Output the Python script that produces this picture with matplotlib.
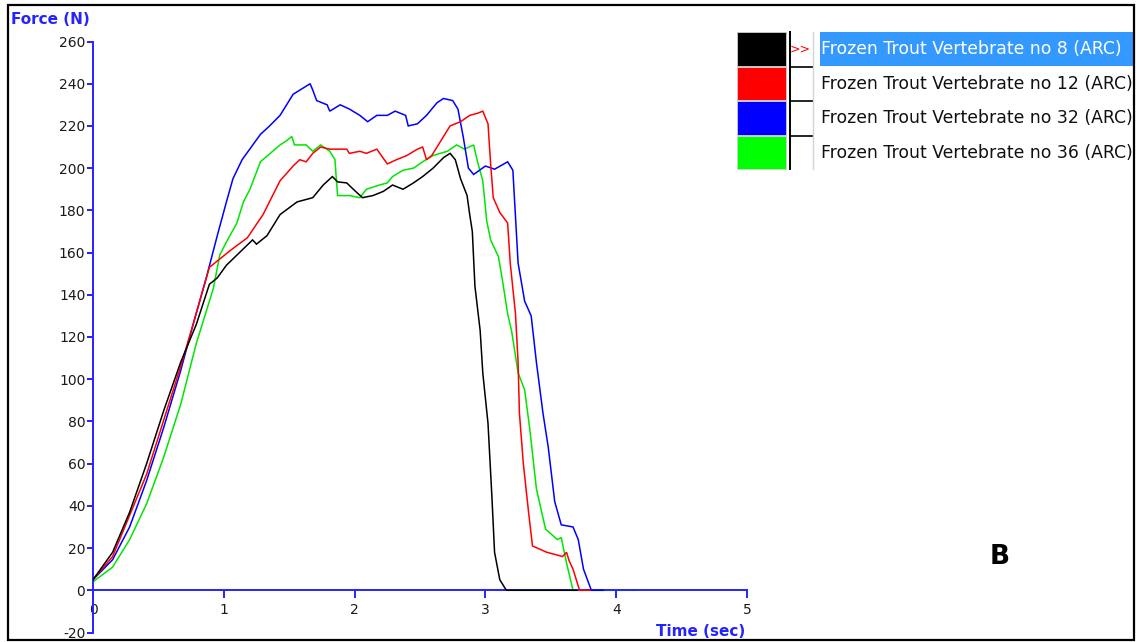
import matplotlib
matplotlib.use("Agg")
import matplotlib.pyplot as plt
from matplotlib.patches import Rectangle

plt.rcParams["axes.unicode_minus"] = False

# --- Curves: time [s], force [N] ---
t_no8 = [0, 0.15, 0.28, 0.41, 0.54, 0.67, 0.79, 0.89, 0.95, 1.02, 1.12, 1.22, 1.25, 1.33,
         1.43, 1.56, 1.68, 1.76, 1.83, 1.87, 1.94, 1.99, 2.06, 2.14, 2.22, 2.29, 2.37, 2.45,
         2.52, 2.60, 2.68, 2.73, 2.77, 2.81, 2.86, 2.88, 2.90, 2.92, 2.96, 2.98, 3.02, 3.05,
         3.07, 3.11, 3.16, 3.70]
f_no8 = [5, 18, 37, 60, 85, 108, 126, 145, 148, 154, 160, 166, 164, 168,
         178, 184, 186, 192, 196, 193.5, 193, 190, 186, 187, 189, 192, 190, 193,
         196, 200, 205, 207, 204, 195, 187, 178, 170, 144, 123, 103, 79, 44,
         18, 5, 0, 0]

t_no12 = [0, 0.15, 0.41, 0.67, 0.77, 0.89, 0.97, 1.05, 1.18, 1.30, 1.43, 1.53, 1.58, 1.63,
          1.68, 1.74, 1.81, 1.94, 1.96, 2.04, 2.09, 2.17, 2.25, 2.32, 2.40, 2.48, 2.52, 2.55,
          2.59, 2.68, 2.73, 2.81, 2.88, 2.94, 2.98, 3.02, 3.04, 3.06, 3.11, 3.17, 3.19, 3.23,
          3.25, 3.26, 3.29, 3.33, 3.36, 3.47, 3.59, 3.62, 3.64, 3.67, 3.72, 3.80]
f_no12 = [5, 16, 55, 106, 127, 153, 157, 161, 167, 178, 194, 201, 204, 203,
          207, 210, 209, 209, 207, 208, 207, 209, 202, 204, 206, 209, 210, 204,
          206, 215, 220, 222, 225, 226, 227, 221, 202, 186, 179, 174, 155, 131,
          108, 84, 60, 37, 21, 18, 16, 18, 14, 10, 0, 0]

t_no32 = [0, 0.15, 0.28, 0.41, 0.54, 0.67, 0.77, 0.87, 0.95, 1.02, 1.07, 1.14, 1.28, 1.35,
          1.43, 1.53, 1.66, 1.68, 1.71, 1.79, 1.81, 1.89, 1.96, 2.04, 2.10, 2.17, 2.25, 2.31,
          2.39, 2.41, 2.48, 2.55, 2.63, 2.68, 2.75, 2.79, 2.83, 2.87, 2.91, 3.00, 3.07, 3.17,
          3.21, 3.25, 3.30, 3.35, 3.39, 3.44, 3.48, 3.53, 3.58, 3.67, 3.71, 3.75, 3.81, 3.90]
f_no32 = [5, 14.5, 30, 52, 77, 104, 127, 149, 168, 184, 195, 204, 216, 220,
          225, 235, 240, 237, 232, 230, 227, 230, 228, 225, 222, 225, 225, 227,
          225, 220, 221, 225, 231, 233, 232, 228, 215, 200, 197, 201, 199.5, 203,
          199, 155, 137, 130, 108, 84, 68, 42, 31, 30, 24, 10, 0, 0]

t_no36 = [0, 0.15, 0.28, 0.41, 0.54, 0.67, 0.79, 0.92, 0.97, 1.02, 1.10, 1.15, 1.20, 1.28,
          1.43, 1.48, 1.52, 1.54, 1.63, 1.68, 1.74, 1.81, 1.85, 1.86, 1.87, 1.96, 2.04, 2.09,
          2.19, 2.25, 2.29, 2.37, 2.45, 2.52, 2.60, 2.71, 2.78, 2.84, 2.91, 2.94, 2.98, 3.01,
          3.04, 3.10, 3.13, 3.17, 3.20, 3.25, 3.30, 3.34, 3.39, 3.46, 3.55, 3.58, 3.62, 3.67,
          4.16]
f_no36 = [4, 11, 24, 41, 63, 88, 117, 143, 159, 165, 174, 184, 190, 203,
          211, 213, 215, 211, 211, 208, 211, 208, 204, 195, 187, 187, 186, 190,
          192, 193, 196, 199, 200, 203, 206, 208, 211, 209, 211, 203, 194, 175,
          166, 158, 147, 131, 123, 103, 95, 76, 48, 29, 24, 25, 13, 0,
          0]

labels = ["Frozen Trout Vertebrate no 8 (ARC)", "Frozen Trout Vertebrate no 12 (ARC)",
          "Frozen Trout Vertebrate no 32 (ARC)", "Frozen Trout Vertebrate no 36 (ARC)"]
colors = ["#000000", "#ff0000", "#0000ff", "#00e600"]
x_ticks = [0, 1, 2, 3, 4, 5]
y_ticks = list(range(-20, 261, 20))

AXIS_BLUE = "#2424ff"

fig = plt.figure(figsize=(11.37, 6.42), dpi=100)
ax = fig.add_axes([93 / 1137, 9.5 / 642, 654 / 1137, 591 / 642])

series = [(t_no8, f_no8), (t_no12, f_no12), (t_no32, f_no32), (t_no36, f_no36)]
zorders = [5, 4, 3, 2]
for (t, f), c, z in zip(series, colors, zorders):
    ax.plot(t, f, color=c, lw=1.1, zorder=z, solid_joinstyle="miter")

ax.set_xlim(0, 5)
ax.set_ylim(-20, 260)
ax.set_xticks(x_ticks)
ax.set_yticks(y_ticks)
for s in ("top", "right"):
    ax.spines[s].set_visible(False)
ax.spines["bottom"].set_position(("data", 0))
for s in ("left", "bottom"):
    ax.spines[s].set_color(AXIS_BLUE)
    ax.spines[s].set_linewidth(1.4)
ax.tick_params(axis="y", direction="out", length=4, width=1.4, color=AXIS_BLUE,
               pad=1.5, labelsize=10, labelcolor="#1a1a1a")
ax.tick_params(axis="x", direction="out", length=6, width=1.4, color=AXIS_BLUE,
               pad=3, labelsize=10, labelcolor="#1a1a1a")
ax.patch.set_alpha(0)

# axis titles placed like the instrument software does
fig.text(11 / 1137, 1 - 19 / 642, "Force (N)", color=AXIS_BLUE, fontsize=11,
         fontweight="bold", ha="left", va="center")
fig.text(745 / 1137, 1 - 632 / 642, "Time (sec)", color=AXIS_BLUE, fontsize=11,
         fontweight="bold", ha="right", va="center")

# --- legend panel and frame, in pixel coordinates ---
lg = fig.add_axes([0, 0, 1, 1], zorder=10)
lg.set_xlim(0, 1137)
lg.set_ylim(642, 0)
lg.axis("off")
lg.patch.set_alpha(0)

row_h = 34.5
top = 32
for i, (lab, c) in enumerate(zip(labels, colors)):
    y0 = top + i * row_h
    box_c = "#00ff00" if c == "#00e600" else c
    lg.add_patch(Rectangle((737, y0), 49, row_h - 1, facecolor=box_c,
                           edgecolor="#cfcfcf", lw=0.6))
    if i == 0:
        lg.add_patch(Rectangle((820, y0), 313, row_h - 1, facecolor="#3399ff",
                               edgecolor="none"))
        lg.text(800, y0 + row_h / 2, ">>", color="red", fontsize=9,
                ha="center", va="center")
    if i > 0:
        lg.plot([790, 813], [y0, y0], color="black", lw=1.2)
    lg.text(821, y0 + row_h / 2, lab, fontsize=12.4, ha="left", va="center",
            color="white" if i == 0 else "#111111", clip_on=True)
lg.plot([790, 790], [top, top + 4 * row_h - 1], color="black", lw=1.4)
lg.plot([813, 813], [top, top + 4 * row_h - 1], color="#d5d5d5", lw=1)

lg.text(1000, 557, "B", fontsize=19, fontweight="bold", ha="center", va="center")
lg.add_patch(Rectangle((8, 5), 1126, 635, fill=False, edgecolor="black", lw=1.6))

fig.savefig("out.png", dpi=100)
